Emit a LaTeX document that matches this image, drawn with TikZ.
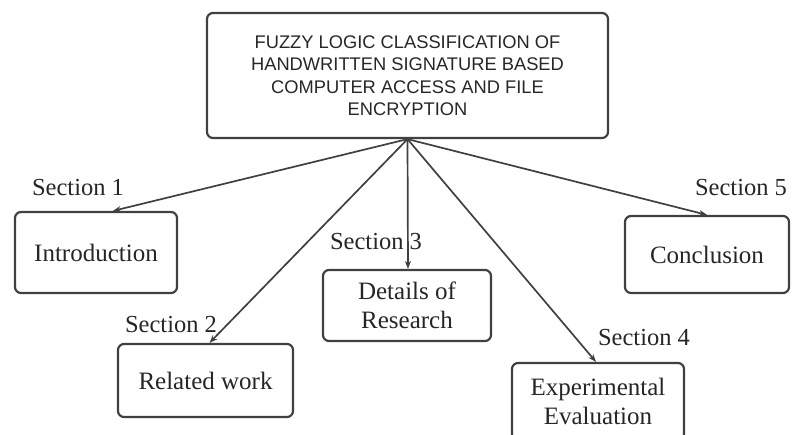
\documentclass[tikz,border=0pt]{standalone}
\usepackage{fontspec}
\setmainfont{Liberation Serif}
\newfontfamily\titlefont{Liberation Sans}
\usepackage{tikz}
\usetikzlibrary{arrows.meta}
\usetikzlibrary{positioning}

\begin{document}
\begin{tikzpicture}[x=1pt,y=-1pt]
\useasboundingbox (0,0) rectangle (792,434);

\tikzstyle{part}=[draw=black!75,line width=2.2pt,rounded corners=6pt,text=black!85,font=\fontsize{25}{29}\selectfont,align=center,inner sep=0pt]
\tikzstyle{sec}=[text=black!85,font=\fontsize{24.5}{26}\selectfont,inner sep=0pt]
\tikzstyle{link}=[draw=black!75,line width=1.7pt,-{Stealth[length=8pt,width=6pt]}]

\node (title) [part,minimum width=401pt,minimum height=125pt,font=\titlefont\fontsize{18.3}{22.5}\selectfont] at (407.5,75.5) {FUZZY LOGIC CLASSIFICATION OF\\HANDWRITTEN SIGNATURE BASED\\COMPUTER ACCESS AND FILE\\ENCRYPTION};

\node (intro) [part,minimum width=162pt,minimum height=81pt] at (96,252.5) {Introduction};
\node (related) [part,minimum width=175pt,minimum height=73pt] at (205.5,380.5) {Related work};
\node (details) [part,minimum width=168pt,minimum height=71pt] at (407,305.5) {Details of\\Research};
\node (eval) [part,minimum width=172pt,minimum height=77pt] at (598,401.5) {Experimental\\Evaluation};
\node (concl) [part,minimum width=164pt,minimum height=77pt] at (707,254.5) {Conclusion};

\node (sec1) [sec] at (78,188) {Section 1};
\node (sec2) [sec] at (171,325) {Section 2};
\node (sec3) [sec] at (376,242) {Section 3};
\node (sec4) [sec] at (644,338) {Section 4};
\node (sec5) [sec] at (741,188) {Section 5};

\draw[link] (title.south) -- ([xshift=17pt]intro.north);
\draw[link] (title.south) -- ([xshift=4pt]related.north);
\draw[link] (title.south) -- ([xshift=1pt]details.north);
\draw[link] (title.south) -- ([xshift=-2pt]eval.north);
\draw[link] (title.south) -- (concl.north);
\end{tikzpicture}
\end{document}
